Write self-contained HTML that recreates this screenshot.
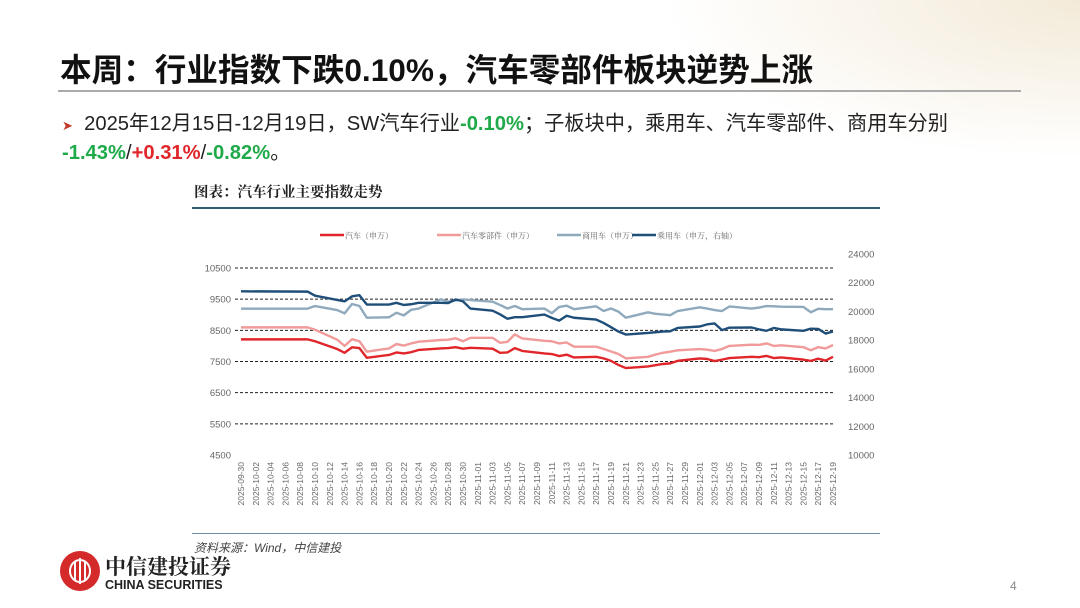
<!DOCTYPE html>
<html><head><meta charset="utf-8">
<style>
html,body{margin:0;padding:0;}
body{width:1080px;height:608px;position:relative;overflow:hidden;background:#fff;font-family:"Liberation Sans","Noto Sans CJK SC",sans-serif;}
.abs{position:absolute;}
#title{left:60px;top:45px;font-size:31.6px;font-weight:bold;color:#111;white-space:nowrap;}
#hline{left:58px;top:90px;width:963px;height:2px;background:#aaa;}
.bul{font-size:20.2px;color:#222;white-space:nowrap;}
.g{color:#1faa4a;font-weight:bold;}.r{color:#e0262a;font-weight:bold;}
#ctitle{left:194px;top:181px;font-size:14.5px;font-weight:bold;font-family:"Liberation Serif","Noto Serif CJK SC",serif;color:#222;}
#cline{left:192px;top:207px;width:688px;height:2px;background:#2f5a78;}
#bline{left:192px;top:533px;width:688px;height:1px;background:#6e8fa8;}
#src{left:194px;top:539px;font-size:12px;font-style:italic;color:#444;}
#pnum{left:1010px;top:579px;font-size:12px;color:#888;}
</style></head><body>
<div class="abs" style="right:0;top:0;width:420px;height:160px;background:radial-gradient(ellipse at 100% 0%,#f3ead8 0%,rgba(255,255,255,0) 70%);"></div>
<div id="title" class="abs">本周：行业指数下跌0.10%，汽车零部件板块逆势上涨</div>
<div id="hline" class="abs"></div>
<div class="abs bul" style="left:62px;top:107px;"><span style="color:#c0392b;font-size:13px;">➤</span>&nbsp; 2025年12月15日-12月19日，SW汽车行业<span class="g">-0.10%</span>；子板块中，乘用车、汽车零部件、商用车分别</div>
<div class="abs bul" style="left:62px;top:136px;"><span class="g">-1.43%</span>/<span class="r">+0.31%</span>/<span class="g">-0.82%</span>。</div>
<div id="ctitle" class="abs">图表：汽车行业主要指数走势</div>
<div id="cline" class="abs"></div>
<svg class="abs" style="left:0;top:0" width="1080" height="608" id="chart"></svg>
<div id="bline" class="abs"></div>
<div id="src" class="abs">资料来源：Wind，中信建投</div>
<div class="abs" style="left:60px;top:551px;width:40px;height:40px;border-radius:50%;background:#d42a2a;">
<div style="position:absolute;left:9px;top:8px;width:22px;height:24px;border:2px solid #fff;border-radius:50%;box-sizing:border-box;"></div>
<div style="position:absolute;left:14px;top:10px;width:2px;height:20px;background:#fff;"></div>
<div style="position:absolute;left:19px;top:7px;width:2px;height:26px;background:#fff;"></div>
<div style="position:absolute;left:24px;top:10px;width:2px;height:20px;background:#fff;"></div>
</div>
<div class="abs" style="left:105px;top:551px;font-size:21px;font-weight:bold;color:#222;font-family:'Noto Serif CJK SC',serif;">中信建投证券</div>
<div class="abs" style="left:105px;top:578px;font-size:12.5px;font-weight:bold;color:#222;">CHINA SECURITIES</div>
<div id="pnum" class="abs">4</div>
<script>
const dayIdx=[0,9,10,13,14,15,16,17,20,21,22,23,24,27,28,29,30,31,34,35,36,37,38,41,42,43,44,45,48,49,50,51,52,55,56,57,58,59,62,63,64,65,66,69,70,71,72,73,76,77,78,79,80];
const autoVals=[8210,8210,8150,7900,7780,7955,7930,7620,7710,7790,7760,7800,7870,7920,7930,7960,7910,7940,7910,7780,7790,7930,7840,7760,7740,7675,7720,7630,7650,7600,7520,7390,7290,7340,7380,7420,7440,7520,7600,7580,7515,7560,7610,7650,7640,7680,7610,7630,7560,7520,7590,7530,7650];
const partsVals=[8595,8595,8520,8200,8000,8215,8150,7815,7920,8060,8010,8080,8135,8190,8200,8245,8150,8260,8260,8100,8130,8370,8240,8165,8150,8080,8110,7975,7975,7900,7820,7740,7600,7650,7720,7780,7815,7860,7900,7880,7840,7900,8000,8040,8030,8080,8000,8020,7960,7860,7960,7920,8030];
const commVals=[9195,9195,9280,9150,9045,9345,9280,8905,8920,9065,8980,9160,9200,9495,9420,9460,9490,9470,9420,9315,9200,9280,9180,9200,9050,9250,9290,9180,9270,9120,9200,9100,8905,9078,9030,9010,8985,9120,9240,9200,9150,9120,9265,9200,9230,9280,9270,9260,9250,9080,9190,9180,9180];
const passVals=[21400,21380,21100,20800,20700,21050,21130,20480,20480,20600,20450,20500,20600,20600,20580,20830,20700,20200,20050,19800,19490,19600,19600,19780,19550,19360,19700,19560,19430,19200,18900,18600,18390,18500,18550,18600,18620,18850,18950,19100,19160,18700,18870,18880,18750,18650,18850,18750,18650,18800,18780,18460,18600];
const leftTicks=[4500,5500,6500,7500,8500,9500,10500];
const rightTicks=[10000,12000,14000,16000,18000,20000,22000,24000];
const seriesNames=["汽车（申万）","汽车零部件（申万）","商用车（申万）","乘用车（申万，右轴）"];
const colors=["#e0262a","#f09a9a","#8fa9bd","#1f4e79"];
const NS="http://www.w3.org/2000/svg";
const svg=document.getElementById('chart');
const X0=241,DX=7.4;
const x=d=>X0+d*DX;
const yL=v=>455-(v-4500)*(187/6000);
const yR=v=>455-(v-10000)*(201/14000);
function mk(t,a){const e=document.createElementNS(NS,t);for(const k in a)e.setAttribute(k,a[k]);svg.appendChild(e);return e;}
leftTicks.forEach(v=>{
  if(v>4500){const l=mk('line',{x1:235,x2:835,y1:yL(v),y2:yL(v),stroke:'#222','stroke-width':1,'stroke-dasharray':'3,2'});
  
  }
  const t=mk('text',{x:231,y:yL(v)+3.5,'text-anchor':'end','font-size':9.5,fill:'#666','font-family':'Liberation Sans'});t.textContent=v;
  
  
});
rightTicks.forEach(v=>{
  const t=mk('text',{x:848,y:yR(v)+3.5,'font-size':9.5,fill:'#666','font-family':'Liberation Sans'});t.textContent=v;
  
  
});
const base=new Date(Date.UTC(2025,8,30));
for(let d=0;d<=80;d+=2){
  const dt=new Date(base.getTime()+d*86400000);
  const s=dt.getUTCFullYear()+'-'+String(dt.getUTCMonth()+1).padStart(2,'0')+'-'+String(dt.getUTCDate()).padStart(2,'0');
  const t=mk('text',{x:0,y:0,'text-anchor':'end','font-size':8.5,fill:'#666','font-family':'Liberation Sans',transform:`translate(${x(d)+3},462) rotate(-90)`});t.textContent=s;
  
  
}
const sets=[[autoVals,yL],[partsVals,yL],[commVals,yL],[passVals,yR]];
const names=['series-auto','series-auto-parts','series-commercial-vehicle','series-passenger-vehicle'];
[2,1,0,3].forEach(i=>{
  const [vals,fy]=sets[i];
  const p=mk('polyline',{points:vals.map((v,j)=>x(dayIdx[j])+','+fy(v)).join(' '),fill:'none',stroke:colors[i],'stroke-width':2.4,'stroke-linejoin':'round'});
  
  
});
const lx=[320,437,557,632];
seriesNames.forEach((n,i)=>{
  const l=mk('line',{x1:lx[i],x2:lx[i]+24,y1:235,y2:235,stroke:colors[i],'stroke-width':2.5});
  
  
  const t=mk('text',{x:lx[i]+25,y:238.5,'font-size':8,fill:'#666','font-family':'Liberation Serif, Noto Serif CJK SC, serif'});t.textContent=n;
  
  
});
</script>
</body></html>
